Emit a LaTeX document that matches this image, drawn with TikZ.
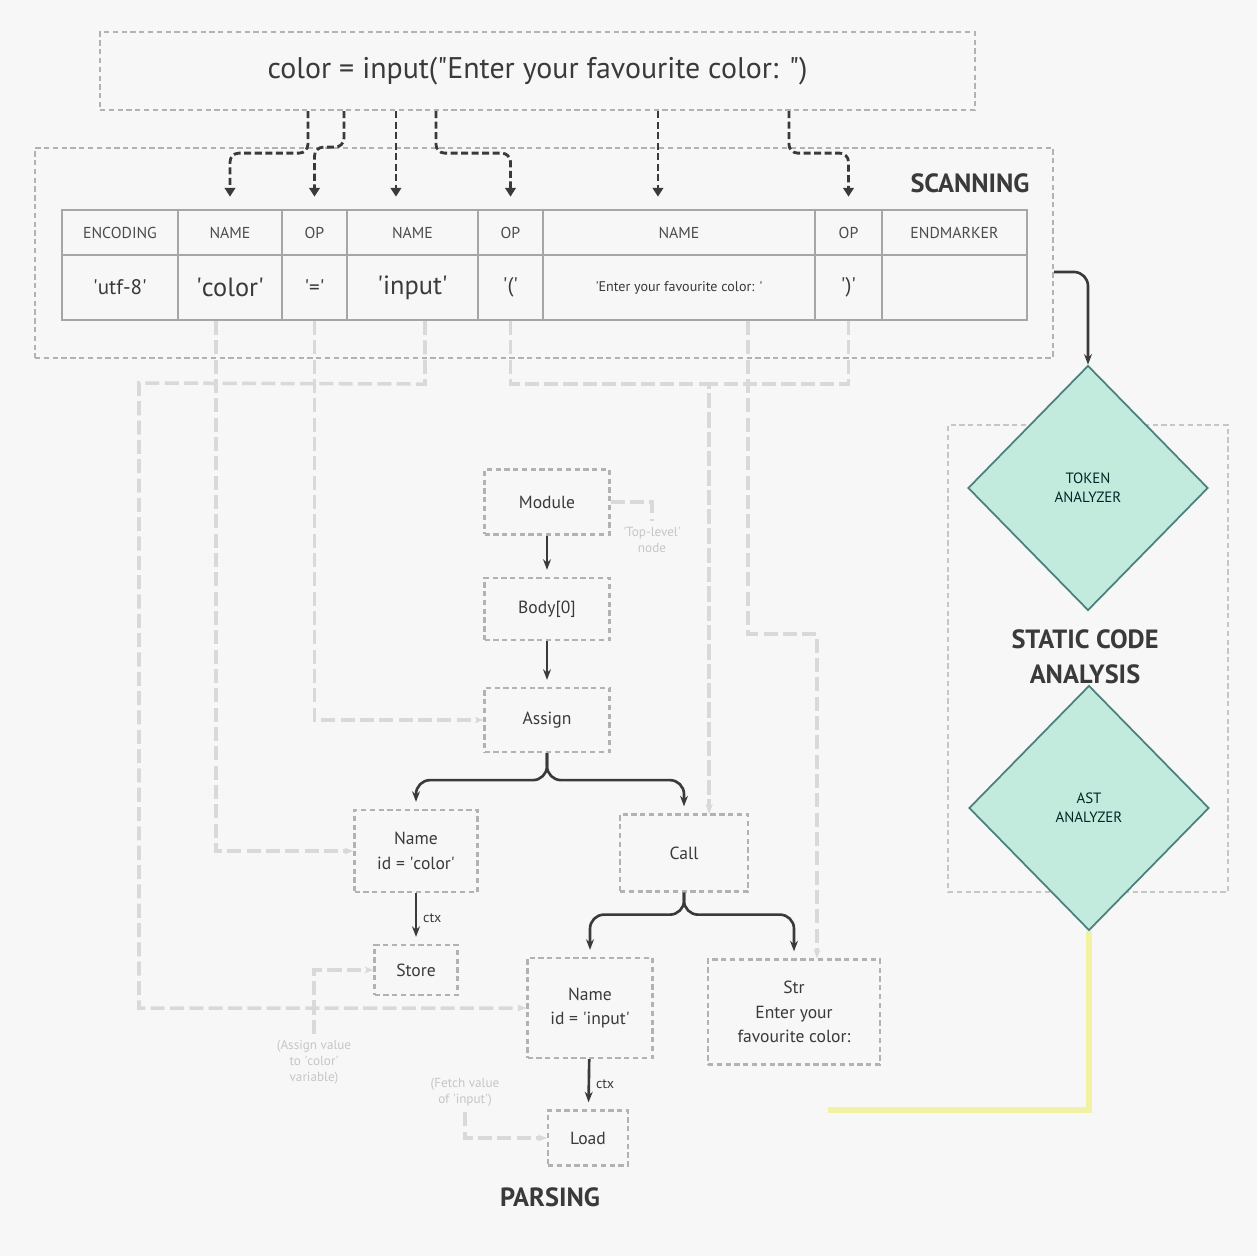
\documentclass[tikz,border=0pt]{standalone}
\usepackage{fontspec}
\setmainfont{PT Sans}
\usepackage{tikz}
\usetikzlibrary{arrows.meta,positioning,shapes.geometric,calc}
\definecolor{canvas}{HTML}{F7F7F7}
\definecolor{ink}{HTML}{3A3A3A}
\definecolor{mint}{HTML}{C3EBDD}
\definecolor{faint}{HTML}{D9D9D9}
\definecolor{paleyellow}{HTML}{F2F2A4}
\newcommand{\tq}{\textquotesingle}
\newcommand{\dq}{\textquotedbl}

\begin{document}
\begin{tikzpicture}[x=0.02cm, y=-0.02cm,
    region/.style={draw=gray!60, line width=1.3pt, dash pattern=on 3pt off 2pt},
    treebox/.style={region, align=center, inner sep=0pt, font=\fontsize{10}{14}\selectfont, text=ink},
    cellhead/.style={draw=gray!70, line width=1.2pt, minimum height=0.9cm, inner sep=0pt,
                     font=\fontsize{9}{10}\selectfont, text=gray!60!black},
    cellval/.style={cellhead, minimum height=1.3cm, text=ink},
    tok/.style={draw=ink, line width=1.6pt, dash pattern=on 4pt off 2pt, rounded corners=5pt,
                -{Triangle[width=6pt,length=5pt]}, shorten >=7pt},
    arr/.style={draw=ink, line width=1.5pt, -{Stealth[length=6pt]}, rounded corners=8pt, shorten >=4pt},
    faintline/.style={draw=faint, line width=2pt, dash pattern=on 8pt off 3pt, -{Stealth[length=5pt]}},
    note/.style={text=gray!45, font=\fontsize{7.5}{9}\selectfont, align=center},
    ctxlabel/.style={right, font=\fontsize{8}{9}\selectfont, text=ink},
    heading/.style={font=\fontsize{15}{20}\selectfont\bfseries, text=ink, align=center},
    analyzer/.style={diamond, draw=teal!40!gray, line width=1pt, fill=mint, minimum width=4.8cm,
                     minimum height=4.9cm, inner sep=0pt, align=center,
                     font=\fontsize{8.5}{11}\selectfont, text=teal!30!black},
    yellowline/.style={draw=paleyellow, line width=3pt}
  ]
    \useasboundingbox (0,0) rectangle (1257,1256);
    \fill[canvas] (0,0) rectangle (1257,1256);

    \node[region, minimum width=17.5cm, minimum height=1.56cm, font=\fontsize{17}{19}\selectfont, text=ink]
      (src) at (537.5,71) {color = input(\dq Enter your favourite color: \dq)};
    \node[region, minimum width=20.36cm, minimum height=4.2cm] (scan) at (544,253) {};
    \node[heading] (scanlabel) at (970,183) {SCANNING};

    \foreach \xa/\xb/\hd/\val/\fs [count=\i] in {
        62/178/ENCODING/{\tq utf-8\tq}/12,
        178/282/NAME/{\tq color\tq}/15,
        282/347/OP/{\tq=\tq}/12,
        347/478/NAME/{\tq input\tq}/15,
        478/543/OP/{\tq(\tq}/12,
        543/815/NAME/{\tq Enter your favourite color: \tq}/8,
        815/882/OP/{\tq)\tq}/12,
        882/1027/ENDMARKER/{}/12}
    {
      \node[cellhead, minimum width={(\xb-\xa)*0.02cm}] (h\i) at ({(\xa+\xb)/2},232.5) {\hd};
      \node[cellval, minimum width={(\xb-\xa)*0.02cm}, font=\fontsize{\fs}{\fs}\selectfont]
        (v\i) at ({(\xa+\xb)/2},287.5) {\val};
    }

    \coordinate (s1) at ($(src.south west)+(209,0)$);
    \coordinate (s2) at ($(src.south west)+(245,0)$);
    \coordinate (s3) at ($(src.south west)+(297,0)$);
    \coordinate (s4) at ($(src.south west)+(337,0)$);
    \coordinate (s5) at ($(src.south west)+(559,0)$);
    \coordinate (s6) at ($(src.south west)+(690,0)$);
    \draw[tok] (s1) -- ++(0,42) -| (h2.north);
    \draw[tok] (s2) -- ++(0,36) -| (h3.north);
    \draw[tok] (s3) -- (s3 |- h4.north);
    \draw[tok] (s4) -- ++(0,42) -| (h5.north);
    \draw[tok] (s5) -- (s5 |- h6.north);
    \draw[tok] (s6) -- ++(0,42) -| (h7.north);

    \node[region, draw=gray!45, minimum width=5.6cm, minimum height=9.34cm] (static) at (1088,658.5) {};
    \node[analyzer] (tokan) at (1088,488) {TOKEN\\ANALYZER};
    \node[analyzer] (astan) at (1089,808) {AST\\ANALYZER};
    \node[heading] (statlabel) at (1085,657) {STATIC CODE\\ANALYSIS};
    \draw[arr, shorten >=0pt] ([yshift=-0.38cm]scan.east) -| (tokan.north);
    \coordinate (yend) at (828,1110);
    \draw[yellowline] (astan.south) |- (yend);

    \node[treebox, minimum width=2.5cm, minimum height=1.3cm] (module) at (547,502) {Module};
    \node[treebox, minimum width=2.5cm, minimum height=1.24cm] (body) at (547,609) {Body[0]};
    \node[treebox, minimum width=2.5cm, minimum height=1.28cm] (assign) at (547,720) {Assign};
    \node[treebox, minimum width=2.46cm, minimum height=1.64cm] (namecol) at (416,851) {Name\\id = \tq color\tq};
    \node[treebox, minimum width=2.56cm, minimum height=1.54cm] (call) at (684,853) {Call};
    \node[treebox, minimum width=1.66cm, minimum height=1.0cm] (store) at (416,970) {Store};
    \node[treebox, minimum width=2.5cm, minimum height=2.0cm] (namein) at (590,1008) {Name\\id = \tq input\tq};
    \node[treebox, minimum width=3.44cm, minimum height=2.1cm] (str) at (794,1012) {Str\\Enter your\\favourite color:};
    \node[treebox, minimum width=1.6cm, minimum height=1.1cm] (load) at (588,1138) {Load};
    \node[heading] (parselabel) at (550,1197) {PARSING};

    \draw[arr] (module) -- (body);
    \draw[arr] (body) -- (assign);
    \draw[arr] (assign.south) -- ++(0,27) -| (namecol.north);
    \draw[arr] (assign.south) -- ++(0,27) -| (call.north);
    \draw[arr] (namecol) -- node[ctxlabel] {ctx} (store);
    \draw[arr] (call.south) -- ++(0,22) -| (namein.north);
    \draw[arr] (call.south) -- ++(0,22) -| (str.north);
    \draw[arr] (namein) -- node[ctxlabel] {ctx} (load);

    \coordinate (callin) at ($(call.north east)+(-40,0)$);
    \draw[faintline] ([xshift=0.25cm]v4.south) -- ++(0,63) -- (139,383) |- (namein.west);
    \draw[faintline] ([xshift=-0.28cm]v2.south) |- (namecol.west);
    \draw[faintline] (v3.south) |- (assign.west);
    \draw[faintline] (v5.south) -- ++(0,63) -| (callin);
    \draw[faintline] (v7.south) -- ++(0,63) -| (callin);
    \draw[faintline] ($(v6.south east)+(-68,0)$) -- ++(0,313) -| ($(str.north)+(23,0)$);

    \node[note] (modnote) at (652,540) {\tq Top-level\tq\\node};
    \draw[faintline, -] (module.east) -| (modnote.north);
    \node[note] (stnote) at (314,1062) {(Assign value\\to \tq color\tq\\variable)};
    \draw[faintline] (stnote.north) |- (store.west);
    \node[note] (ldnote) at (465,1092) {(Fetch value\\of \tq input\tq)};
    \draw[faintline] (ldnote.south) |- (load.west);
  \end{tikzpicture}
\end{document}
